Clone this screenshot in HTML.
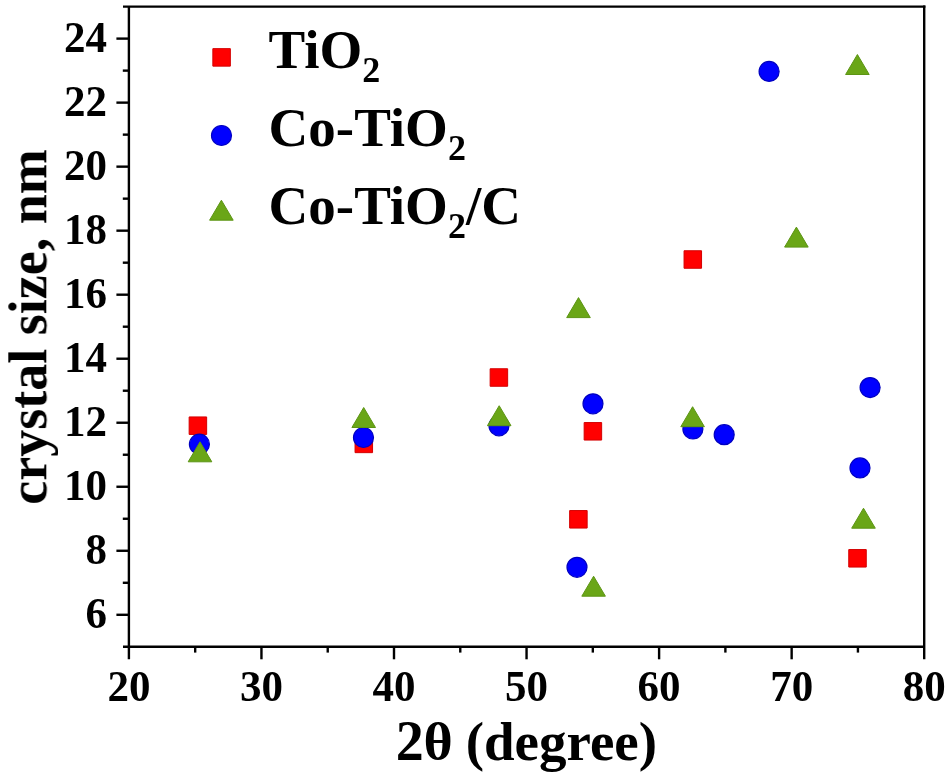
<!DOCTYPE html><html><head><meta charset="utf-8"><style>html,body{margin:0;padding:0;background:#fff;width:950px;height:781px;overflow:hidden}svg{display:block}text{will-change:transform;font-family:"Liberation Serif",serif;font-weight:bold;fill:#000}</style></head><body>
<svg width="950" height="781" viewBox="0 0 950 781">
<g stroke="#000" stroke-width="2.4" fill="none" stroke-linecap="butt">
<line x1="123" y1="6.60" x2="925.40" y2="6.60"/>
<line x1="123" y1="646.80" x2="924.20" y2="646.80"/>
<line x1="128.90" y1="6.60" x2="128.90" y2="659.30"/>
<line x1="924.20" y1="5.40" x2="924.20" y2="659.30"/>
<line x1="116.4" y1="614.79" x2="128.90" y2="614.79"/>
<line x1="116.4" y1="550.77" x2="128.90" y2="550.77"/>
<line x1="116.4" y1="486.75" x2="128.90" y2="486.75"/>
<line x1="116.4" y1="422.73" x2="128.90" y2="422.73"/>
<line x1="116.4" y1="358.71" x2="128.90" y2="358.71"/>
<line x1="116.4" y1="294.69" x2="128.90" y2="294.69"/>
<line x1="116.4" y1="230.67" x2="128.90" y2="230.67"/>
<line x1="116.4" y1="166.65" x2="128.90" y2="166.65"/>
<line x1="116.4" y1="102.63" x2="128.90" y2="102.63"/>
<line x1="116.4" y1="38.61" x2="128.90" y2="38.61"/>
<line x1="122.8" y1="582.78" x2="128.90" y2="582.78"/>
<line x1="122.8" y1="518.76" x2="128.90" y2="518.76"/>
<line x1="122.8" y1="454.74" x2="128.90" y2="454.74"/>
<line x1="122.8" y1="390.72" x2="128.90" y2="390.72"/>
<line x1="122.8" y1="326.70" x2="128.90" y2="326.70"/>
<line x1="122.8" y1="262.68" x2="128.90" y2="262.68"/>
<line x1="122.8" y1="198.66" x2="128.90" y2="198.66"/>
<line x1="122.8" y1="134.64" x2="128.90" y2="134.64"/>
<line x1="122.8" y1="70.62" x2="128.90" y2="70.62"/>
<line x1="261.45" y1="646.80" x2="261.45" y2="659.30"/>
<line x1="394.00" y1="646.80" x2="394.00" y2="659.30"/>
<line x1="526.55" y1="646.80" x2="526.55" y2="659.30"/>
<line x1="659.10" y1="646.80" x2="659.10" y2="659.30"/>
<line x1="791.65" y1="646.80" x2="791.65" y2="659.30"/>
<line x1="195.18" y1="646.80" x2="195.18" y2="652.60"/>
<line x1="327.73" y1="646.80" x2="327.73" y2="652.60"/>
<line x1="460.27" y1="646.80" x2="460.27" y2="652.60"/>
<line x1="592.83" y1="646.80" x2="592.83" y2="652.60"/>
<line x1="725.38" y1="646.80" x2="725.38" y2="652.60"/>
<line x1="857.93" y1="646.80" x2="857.93" y2="652.60"/>
</g>
<text transform="translate(107,627.79) scale(1,1.03)" font-size="43" text-anchor="end">6</text>
<text transform="translate(107,563.77) scale(1,1.03)" font-size="43" text-anchor="end">8</text>
<text transform="translate(107,499.75) scale(1,1.03)" font-size="43" text-anchor="end">10</text>
<text transform="translate(107,435.73) scale(1,1.03)" font-size="43" text-anchor="end">12</text>
<text transform="translate(107,371.71) scale(1,1.03)" font-size="43" text-anchor="end">14</text>
<text transform="translate(107,307.69) scale(1,1.03)" font-size="43" text-anchor="end">16</text>
<text transform="translate(107,243.67) scale(1,1.03)" font-size="43" text-anchor="end">18</text>
<text transform="translate(107,179.65) scale(1,1.03)" font-size="43" text-anchor="end">20</text>
<text transform="translate(107,115.63) scale(1,1.03)" font-size="43" text-anchor="end">22</text>
<text transform="translate(107,51.61) scale(1,1.03)" font-size="43" text-anchor="end">24</text>
<text transform="translate(128.90,701.3) scale(1,1.03)" font-size="43" text-anchor="middle">20</text>
<text transform="translate(261.45,701.3) scale(1,1.03)" font-size="43" text-anchor="middle">30</text>
<text transform="translate(394.00,701.3) scale(1,1.03)" font-size="43" text-anchor="middle">40</text>
<text transform="translate(526.55,701.3) scale(1,1.03)" font-size="43" text-anchor="middle">50</text>
<text transform="translate(659.10,701.3) scale(1,1.03)" font-size="43" text-anchor="middle">60</text>
<text transform="translate(791.65,701.3) scale(1,1.03)" font-size="43" text-anchor="middle">70</text>
<text transform="translate(924.20,701.3) scale(1,1.03)" font-size="43" text-anchor="middle">80</text>
<text x="395.75" y="759.5" font-size="56">2</text>
<text transform="translate(423.4,759.3) scale(1.03,0.96)" font-size="54.5">θ</text>
<text x="465.7" y="759.5" font-size="55">(degree)</text>
<text transform="translate(46.3,327) rotate(-90)" x="0" y="0" font-size="54" text-anchor="middle">crystal size, nm</text>
<rect x="212.85" y="48.65" width="17.50" height="17.50" fill="#ff0000" stroke="#d40000" stroke-width="1.0" stroke-linejoin="round"/>
<circle cx="221.50" cy="135.50" r="10.00" fill="#0000ff" stroke="#0000c0" stroke-width="1.2"/>
<polygon points="221.40,200.22 209.60,220.20 233.20,220.20" fill="#6aa617" stroke="#5c9414" stroke-width="1.0" stroke-linejoin="round"/>
<text x="268.6" y="67.6" font-size="55">TiO<tspan font-size="36" dy="14.4">2</tspan></text>
<text x="268.6" y="145.6" font-size="55">Co-TiO<tspan font-size="36" dy="14.4">2</tspan></text>
<text x="268.6" y="224" font-size="55">Co-TiO<tspan font-size="36" dy="14.4">2</tspan><tspan dy="-14.4">/C</tspan></text>
<rect x="189.15" y="416.95" width="17.50" height="17.50" fill="#ff0000" stroke="#d40000" stroke-width="1.0" stroke-linejoin="round"/>
<rect x="355.05" y="435.15" width="17.50" height="17.50" fill="#ff0000" stroke="#d40000" stroke-width="1.0" stroke-linejoin="round"/>
<rect x="490.15" y="368.75" width="17.50" height="17.50" fill="#ff0000" stroke="#d40000" stroke-width="1.0" stroke-linejoin="round"/>
<rect x="569.65" y="510.55" width="17.50" height="17.50" fill="#ff0000" stroke="#d40000" stroke-width="1.0" stroke-linejoin="round"/>
<rect x="584.15" y="422.55" width="17.50" height="17.50" fill="#ff0000" stroke="#d40000" stroke-width="1.0" stroke-linejoin="round"/>
<rect x="684.05" y="250.75" width="17.50" height="17.50" fill="#ff0000" stroke="#d40000" stroke-width="1.0" stroke-linejoin="round"/>
<rect x="848.75" y="549.55" width="17.50" height="17.50" fill="#ff0000" stroke="#d40000" stroke-width="1.0" stroke-linejoin="round"/>
<circle cx="199.40" cy="444.20" r="10.00" fill="#0000ff" stroke="#0000c0" stroke-width="1.2"/>
<circle cx="363.50" cy="437.50" r="10.00" fill="#0000ff" stroke="#0000c0" stroke-width="1.2"/>
<circle cx="499.00" cy="425.80" r="10.00" fill="#0000ff" stroke="#0000c0" stroke-width="1.2"/>
<circle cx="577.00" cy="567.30" r="10.00" fill="#0000ff" stroke="#0000c0" stroke-width="1.2"/>
<circle cx="593.00" cy="403.80" r="10.00" fill="#0000ff" stroke="#0000c0" stroke-width="1.2"/>
<circle cx="692.90" cy="429.00" r="10.00" fill="#0000ff" stroke="#0000c0" stroke-width="1.2"/>
<circle cx="724.20" cy="434.70" r="10.00" fill="#0000ff" stroke="#0000c0" stroke-width="1.2"/>
<circle cx="769.10" cy="71.40" r="10.00" fill="#0000ff" stroke="#0000c0" stroke-width="1.2"/>
<circle cx="860.00" cy="467.90" r="10.00" fill="#0000ff" stroke="#0000c0" stroke-width="1.2"/>
<circle cx="870.10" cy="387.60" r="10.00" fill="#0000ff" stroke="#0000c0" stroke-width="1.2"/>
<polygon points="200.00,441.82 188.20,461.80 211.80,461.80" fill="#6aa617" stroke="#5c9414" stroke-width="1.0" stroke-linejoin="round"/>
<polygon points="363.70,407.52 351.90,427.50 375.50,427.50" fill="#6aa617" stroke="#5c9414" stroke-width="1.0" stroke-linejoin="round"/>
<polygon points="499.20,405.72 487.40,425.70 511.00,425.70" fill="#6aa617" stroke="#5c9414" stroke-width="1.0" stroke-linejoin="round"/>
<polygon points="578.50,297.62 566.70,317.60 590.30,317.60" fill="#6aa617" stroke="#5c9414" stroke-width="1.0" stroke-linejoin="round"/>
<polygon points="593.60,576.22 581.80,596.20 605.40,596.20" fill="#6aa617" stroke="#5c9414" stroke-width="1.0" stroke-linejoin="round"/>
<polygon points="692.60,406.72 680.80,426.70 704.40,426.70" fill="#6aa617" stroke="#5c9414" stroke-width="1.0" stroke-linejoin="round"/>
<polygon points="796.40,227.12 784.60,247.10 808.20,247.10" fill="#6aa617" stroke="#5c9414" stroke-width="1.0" stroke-linejoin="round"/>
<polygon points="857.40,54.52 845.60,74.50 869.20,74.50" fill="#6aa617" stroke="#5c9414" stroke-width="1.0" stroke-linejoin="round"/>
<polygon points="863.50,508.22 851.70,528.20 875.30,528.20" fill="#6aa617" stroke="#5c9414" stroke-width="1.0" stroke-linejoin="round"/>
</svg></body></html>
